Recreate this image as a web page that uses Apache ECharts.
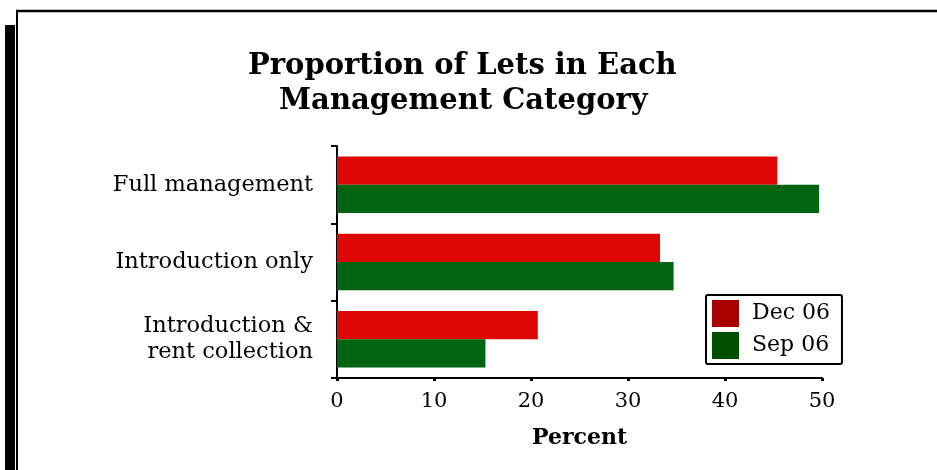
<!DOCTYPE html>
<html>
<head>
<meta charset="utf-8">
<script src="https://cdn.jsdelivr.net/npm/echarts@6/dist/echarts.min.js"></script>
<style>
html,body{margin:0;padding:0;background:#fff;}
#chart{width:937px;height:470px;}
</style>
</head>
<body>
<div id="chart"></div>
<script>
const titleLines = ['Proportion of Lets in Each', 'Management Category'];
const categories = ['Full management', 'Introduction only', 'Introduction &\nrent collection'];
const dec06 = [45.4, 33.3, 20.7];
const sep06 = [49.7, 34.7, 15.3];
const xTicks = [0, 10, 20, 30, 40, 50];
const xName = 'Percent';

const FONT = '"DejaVu Serif", serif';
const titleStyle = {fontFamily: FONT, fontWeight: 'bold', fontSize: 29, lineHeight: 35, color: '#000'};
const chart = echarts.init(document.getElementById('chart'), null, {renderer: 'canvas'});
chart.setOption({
  animation: false,
  backgroundColor: '#fff',
  title: [
    {text: titleLines[0], left: 248, top: 49, padding: 0, textStyle: titleStyle},
    {text: titleLines[1], left: 279, top: 84, padding: 0, textStyle: titleStyle}
  ],
  grid: {left: 337, top: 146, width: 485, height: 232, containLabel: false},
  legend: {
    orient: 'vertical',
    left: 706, top: 295,
    borderColor: '#000', borderWidth: 2, borderRadius: 2,
    padding: [5, 12, 5, 6],
    itemWidth: 27, itemHeight: 27, itemGap: 5,
    textStyle: {fontFamily: FONT, fontSize: 22, color: '#000', padding: [0, 0, 0, 8]},
    data: [
      {name: 'Dec 06', icon: 'rect', itemStyle: {color: '#A80000'}},
      {name: 'Sep 06', icon: 'rect', itemStyle: {color: '#005000'}}
    ]
  },
  xAxis: {
    type: 'value', min: xTicks[0], max: xTicks[xTicks.length - 1], interval: 10,
    name: xName, nameLocation: 'middle', nameGap: 49,
    nameTextStyle: {fontFamily: FONT, fontWeight: 'bold', fontSize: 22, color: '#000'},
    axisLine: {show: true, lineStyle: {color: '#000', width: 2}},
    axisTick: {show: true, length: 3, lineStyle: {color: '#000', width: 3}},
    axisLabel: {fontFamily: FONT, fontSize: 21, color: '#000', margin: 13},
    splitLine: {show: false}
  },
  yAxis: {
    type: 'category', data: categories, inverse: true,
    axisLine: {show: true, lineStyle: {color: '#000', width: 2}},
    axisTick: {show: true, length: 6, lineStyle: {color: '#000', width: 2}},
    axisLabel: {fontFamily: FONT, fontSize: 22.5, color: '#000', margin: 24, lineHeight: 26, align: 'right'},
    splitLine: {show: false}
  },
  series: [
    {name: 'Dec 06', type: 'bar', data: dec06, itemStyle: {color: '#DD0806'}, barGap: '0%', barCategoryGap: '27%'},
    {name: 'Sep 06', type: 'bar', data: sep06, itemStyle: {color: '#006411'}, barGap: '0%', barCategoryGap: '27%'}
  ],
  graphic: [
    {type: 'rect', shape: {x: 5, y: 25, width: 10, height: 460}, style: {fill: '#000'}, silent: true},
    {type: 'line', shape: {x1: 17, y1: 11, x2: 17, y2: 480}, style: {stroke: '#000', lineWidth: 2}, silent: true},
    {type: 'line', shape: {x1: 16, y1: 11, x2: 940, y2: 11}, style: {stroke: '#000', lineWidth: 2.5}, silent: true}
  ]
});
</script>
</body>
</html>
